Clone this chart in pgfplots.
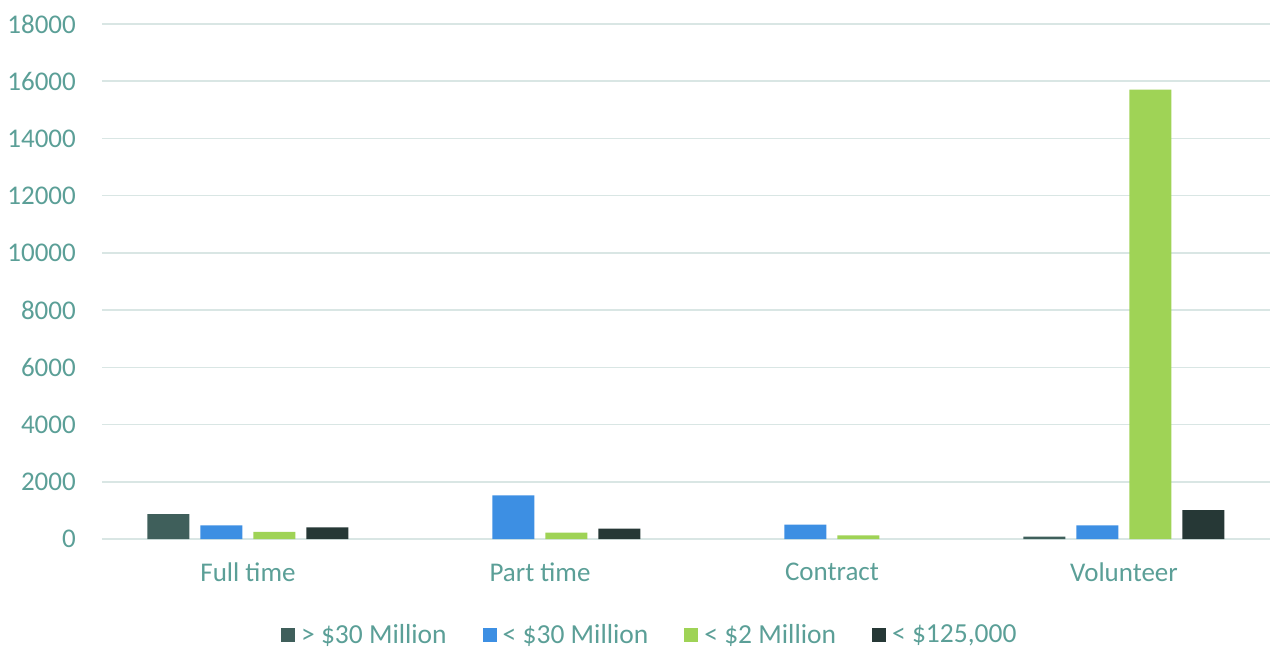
\documentclass[border=0pt]{standalone}
\usepackage{pgfplots}
\pgfplotsset{compat=1.18}
\usepackage{fontspec}
\setmainfont{Carlito}
\definecolor{txt}{HTML}{5B9F97}
\definecolor{gridc}{HTML}{D9E6E4}
\definecolor{cA}{HTML}{3F5F5B}
\definecolor{cB}{HTML}{3D8FE3}
\definecolor{cC}{HTML}{9FD356}
\definecolor{cD}{HTML}{263836}
\begin{document}
\begin{tikzpicture}
\useasboundingbox (-102pt,-110pt) rectangle (1168pt,539pt);
\begin{axis}[
  at={(0pt,0pt)}, anchor=south west,
  scale only axis, width=1168pt, height=515pt,
  xmin=-0.5, xmax=3.5, ymin=0, ymax=18000,
  ybar=11pt, bar width=42pt,
  axis x line*=bottom, axis y line*=left,
  x axis line style={gridc, line width=1.5pt, -},
  y axis line style={draw=none},
  xtick={0,1,2,3}, xticklabels={Full time,Part time,Contract,Volunteer},
  ytick={0,2000,...,18000},
  scaled y ticks=false,
  yticklabel={\pgfmathprintnumber[fixed,precision=0,1000 sep={}]{\tick}},
  major tick length=0pt,
  ymajorgrids, major grid style={gridc, line width=1.5pt},
  /pgf/number format/assume math mode=true,
  tick label style={font=\fontsize{27}{31}\selectfont, text=txt},
  yticklabel style={inner sep=0pt, xshift=-26pt},
  xticklabel style={inner sep=0pt, yshift=-24pt},
  legend columns=4,
  legend style={draw=none, fill=none, at={(0.469,-0.186)}, anchor=center,
    font=\fontsize{27.5}{31}\selectfont, text=txt,
    /tikz/every odd column/.append style={column sep=4pt},
    /tikz/every even column/.append style={column sep=34pt}},
  legend image code/.code={\fill[#1] (0pt,-7pt) rectangle (14pt,7pt);},
]
\addplot[fill=cA, draw=none] coordinates {(0,873) (3,80)};
\addplot[fill=cB, draw=none] coordinates {(0,479) (1,1527) (2,500) (3,479)};
\addplot[fill=cC, draw=none] coordinates {(0,245) (1,220) (2,129) (3,15710)};
\addplot[fill=cD, draw=none] coordinates {(0,409) (1,360) (3,1013)};
\legend{> \$30 Million, < \$30 Million, < \$2 Million, < \$125{,}000}
\end{axis}
\end{tikzpicture}
\end{document}
